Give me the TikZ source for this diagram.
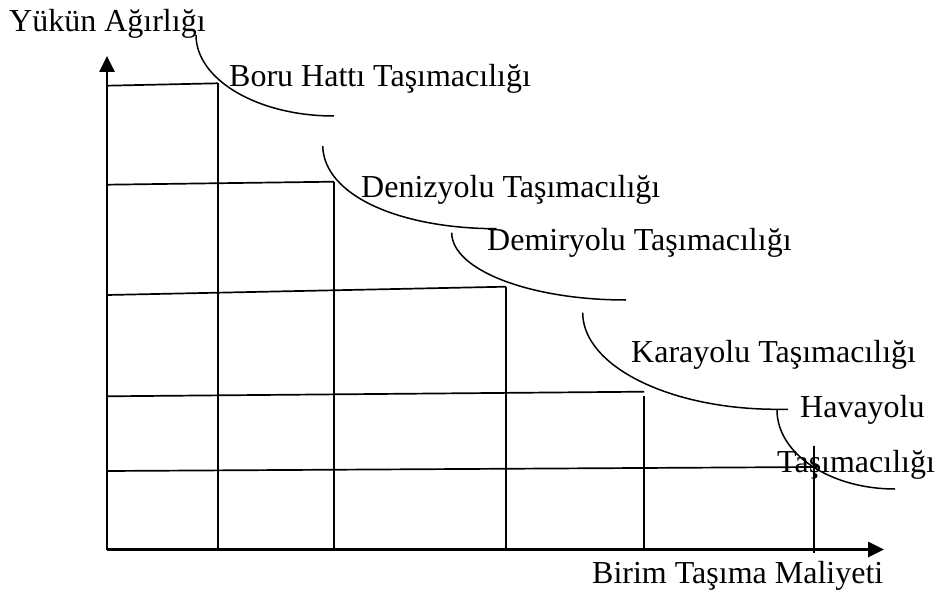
\documentclass[tikz,border=0pt]{standalone}
\usepackage{fontspec}
\setmainfont{Liberation Serif}
\usetikzlibrary{arrows.meta}

\tikzset{
  lbl/.style={anchor=base west, inner sep=0pt, font=\fontsize{32}{36}\selectfont},
  axis/.style={line width=2.6pt, -{Triangle[length=16pt,width=15pt]}},
  gridline/.style={line width=1.7pt},
  costcurve/.style={line width=1.5pt}
}

\begin{document}
\begin{tikzpicture}[x=1pt, y=-1pt]
    \useasboundingbox (0,0) rectangle (948,596);

    % axes
    \coordinate (o) at (107,549.5);
    \coordinate (ytip) at (107,56);
    \coordinate (xtip) at (884,549.5);
    \draw[axis] (o) -- (ytip);
    \draw[axis] (o) -- (xtip);

    % steps: load level against cost
    \draw[gridline] (107,85.7) -- (218,83.3);
    \draw[gridline] (107,184.7) -- (334,181.7);
    \draw[gridline] (107,295) -- (506,286.7);
    \draw[gridline] (107,396.3) -- (644,391.7);
    \draw[gridline] (107,471) -- (817,467);

    \draw[gridline] (218,83.3) -- (218,549.5);
    \draw[gridline] (334,182.5) -- (334,549.5);
    \draw[gridline] (506,286.7) -- (506,549.5);
    \draw[gridline] (644,396) -- (644,549.5);
    \draw[gridline] (814,445.7) -- (814,553);

    % curves
    \draw[costcurve] (196,35) .. controls (196,79.7) and (257.8,116) .. (334,116);
    \draw[costcurve] (322.7,146) .. controls (324,196) and (400.6,228.7) .. (496.7,228.7);
    \draw[costcurve] (451.7,232.7) .. controls (451.7,269.9) and (529.8,300) .. (626,300);
    \draw[costcurve] (582.7,312.7) .. controls (582.7,366) and (669.6,409.3) .. (776.7,409.3) -- (788,409.3);
    \draw[costcurve] (777,410) .. controls (777,453.6) and (829.9,489) .. (895,489);

    % labels
    \node[lbl] (ylbl) at (9,31.5) {Yükün Ağırlığı};
    \node[lbl] (xlbl) at (592,583.3) {Birim Taşıma Maliyeti};
    \node[lbl] (boru) at (229,86.5) {Boru Hattı Taşımacılığı};
    \node[lbl] (deniz) at (361,197.7) {Denizyolu Taşımacılığı};
    \node[lbl] (demir) at (487,251) {Demiryolu Taşımacılığı};
    \node[lbl] (kara) at (631,362.7) {Karayolu Taşımacılığı};
    \node[lbl] (hava) at (800,417.3) {Havayolu};
    \node[lbl] (hava2) at (777,472.7) {Taşımacılığı};
\end{tikzpicture}
\end{document}
